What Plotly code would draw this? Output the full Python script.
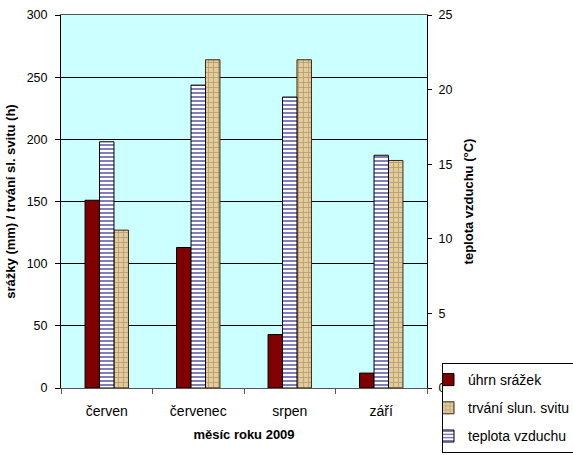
import plotly.graph_objects as go

months = ["červen", "červenec", "srpen", "září"]
srazky = [151, 113, 43, 12]          # úhrn srážek (mm)
svit = [127, 264, 264, 183]          # trvání slun. svitu (h)
teplota = [16.5, 20.3, 19.5, 15.6]   # teplota vzduchu (°C)

FONT = "Liberation Sans, Arial, sans-serif"
W = 0.158

fig = go.Figure()
fig.add_trace(go.Bar(
    x=months, y=srazky, name="úhrn srážek", yaxis="y",
    width=W, offset=-0.237, legendgroup="a",
    marker=dict(color="#800000", line=dict(color="black", width=1)),
))
fig.add_trace(go.Bar(
    x=months, y=svit, name="trvání slun. svitu", yaxis="y",
    width=W, offset=0.079, legendgroup="b",
    marker=dict(color="#dcc495", line=dict(color="#3a2a10", width=1),
                pattern=dict(shape="+", fgcolor="#8a6a3a", bgcolor="#e2cc9e",
                             size=5, solidity=0.3)),
))
fig.add_trace(go.Bar(
    x=months, y=teplota, name="teplota vzduchu", yaxis="y2",
    width=W, offset=-0.079, legendgroup="c",
    marker=dict(color="white", line=dict(color="black", width=1),
                pattern=dict(shape="-", fgcolor="#000080", bgcolor="white",
                             size=4, solidity=0.5)),
))

fig.update_layout(
    width=573, height=455,
    margin=dict(l=61, r=146, t=15, b=67, autoexpand=False),
    paper_bgcolor="white",
    plot_bgcolor="#ccffff",
    font=dict(family=FONT, size=12.5, color="black"),
    barmode="overlay",
    xaxis=dict(
        title=dict(text="<b>měsíc roku 2009</b>", font=dict(size=13), standoff=12),
        showline=True, linecolor="#555555", linewidth=1, mirror=True,
        ticks="outside", ticklen=5, tickcolor="#555555",
        tickson="boundaries", showgrid=False,
        tickfont=dict(size=14), ticklabelstandoff=10,
    ),
    yaxis=dict(
        title=dict(text="<b>srážky (mm) / trvání sl. svitu (h)</b>", font=dict(size=13), standoff=8),
        range=[0, 300], dtick=50,
        showline=True, linecolor="black", linewidth=1,
        ticks="outside", ticklen=5, tickcolor="black",
        showgrid=True, gridcolor="black", gridwidth=1,
        zeroline=False, ticklabelstandoff=5,
        tickfont=dict(size=12.5),
    ),
    yaxis2=dict(
        title=dict(text="<b>teplota vzduchu (°C)</b>", font=dict(size=13), standoff=12),
        range=[0, 25], dtick=5,
        overlaying="y", side="right",
        showline=True, linecolor="black", linewidth=1,
        ticks="outside", ticklen=4, tickcolor="black",
        showgrid=False, zeroline=False, ticklabelstandoff=4,
        tickfont=dict(size=12.5),
    ),
    legend=dict(
        x=(442 - 61) / 366, y=(388 - 363) / 373, xanchor="left", yanchor="top",
        bgcolor="white", bordercolor="black", borderwidth=1,
        font=dict(size=14), tracegroupgap=7, traceorder="grouped",
        itemwidth=30, indentation=-15,
    ),
)

fig.write_html("out.html")
